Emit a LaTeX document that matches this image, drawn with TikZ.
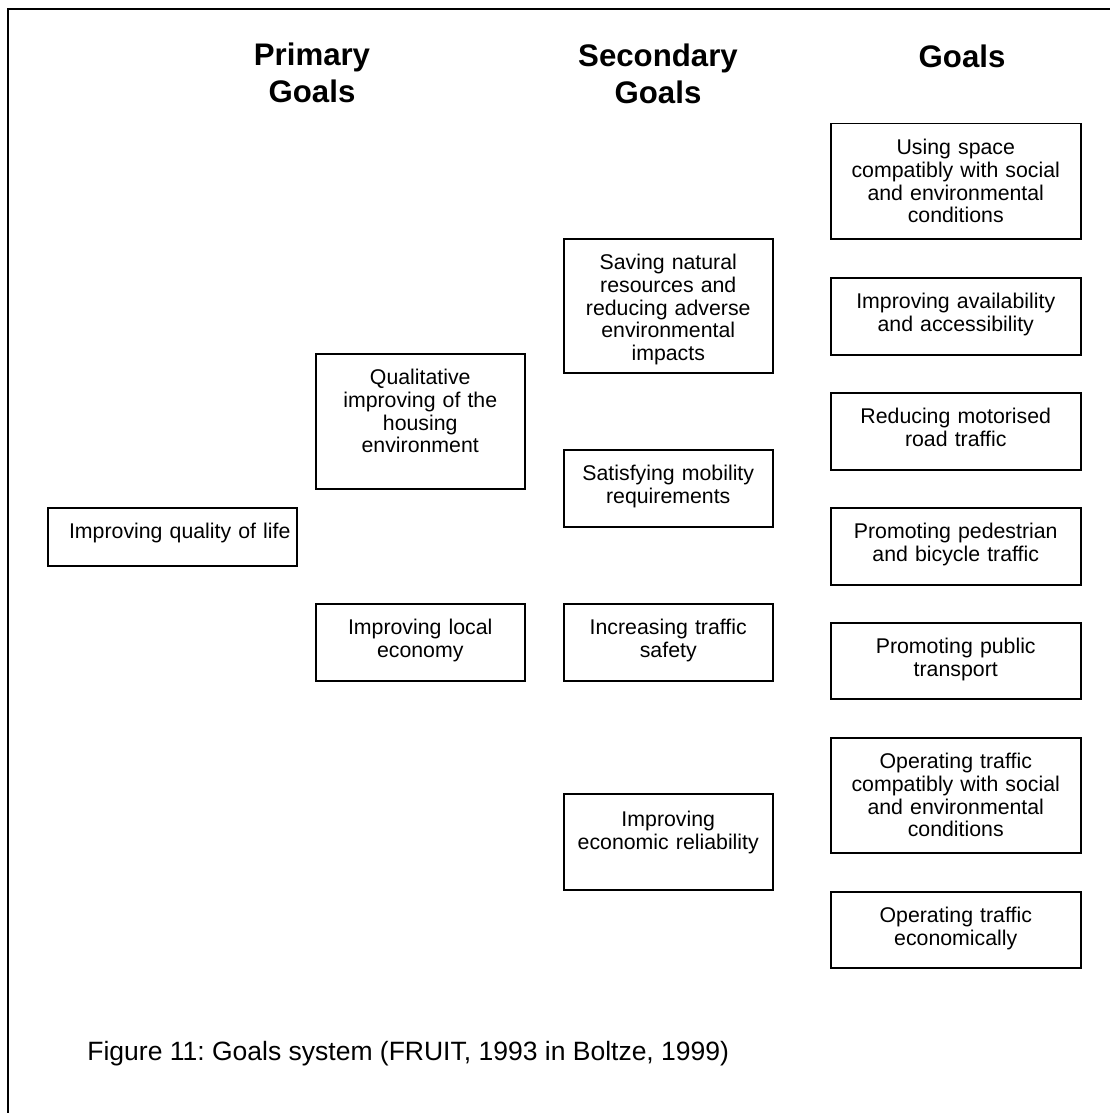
\documentclass[tikz,border=0pt]{standalone}
\usepackage{fontspec}
\setmainfont{Liberation Sans}
\usepackage{tikz}
\usetikzlibrary{positioning}
\frenchspacing

\newcommand{\boxfont}{\fontsize{10.65}{11.35}\selectfont}
\newcommand{\headfont}{\fontsize{15.6}{18.5}\selectfont\bfseries}
\newcommand{\capfont}{\fontsize{13.25}{15}\selectfont}

\begin{document}
\begin{tikzpicture}[
        x=0.5pt, y=-0.5pt,
        box/.style={rectangle, draw, line width=0.75pt, anchor=north west, inner sep=0pt, align=center, font=\boxfont, text height=15.5pt},
        narrow/.style={box, text width=104.5pt},
        wide/.style={box, text width=125pt},
        head/.style={font=\headfont, align=center, text width=4cm, anchor=base, inner sep=0pt},
    ]
        \useasboundingbox (0,0) rectangle (1110,1113);

        % Frame
        \draw[line width=1pt] (8,1113) -- (8,9) -- (1110,9);

        % Headings
        \node[head] (hprim) at (312,66) {Primary\\Goals};
        \node[head] (hsec) at (658,67) {Secondary\\Goals};
        \node[head] (hgoal) at (962,68) {Goals};

        % Top goal
        \node[box, text width=124.5pt, text depth=13.5pt] (life) at (47,507) {\hspace*{7.5pt}Improving quality of life};

        % Primary goals
        \node[narrow, text depth=52pt] (housing) at (315,353) {Qualitative\\improving of the\\housing\\environment};
        \node[narrow, text depth=23pt] (economy) at (315,603) {Improving local\\economy};

        % Secondary goals
        \node[narrow, text depth=51.5pt] (saving) at (563,238) {Saving natural\\resources and\\reducing adverse\\environmental\\impacts};
        \node[narrow, text depth=23pt] (mobility) at (563,449) {Satisfying mobility\\requirements};
        \node[narrow, text depth=23pt] (safety) at (563,603) {Increasing traffic\\safety};
        \node[narrow, text height=16.5pt, text depth=31.5pt] (reliab) at (563,793) {Improving\\economic reliability};

        % Goals
        \node[wide, text depth=42pt] (space) at (830,123) {Using space\\compatibly with social\\and environmental\\conditions};
        \node[wide, text depth=23pt] (access) at (830,277) {Improving availability\\and accessibility};
        \node[wide, text depth=23pt] (motor) at (830,392) {Reducing motorised\\road traffic};
        \node[wide, text depth=23pt] (bike) at (830,507) {Promoting pedestrian\\and bicycle traffic};
        \node[wide, text depth=22.5pt] (public) at (830,622) {Promoting public\\transport};
        \node[wide, text depth=42pt] (opsoc) at (830,737) {Operating traffic\\compatibly with social\\and environmental\\conditions};
        \node[wide, text depth=22.5pt] (opeco) at (830,891) {Operating traffic\\economically};

        % Caption
        \node[font=\capfont, anchor=base west, inner sep=0pt] (caption) at (87,1060) {Figure 11: Goals system (FRUIT, 1993 in Boltze, 1999)};

    \end{tikzpicture}
\end{document}
